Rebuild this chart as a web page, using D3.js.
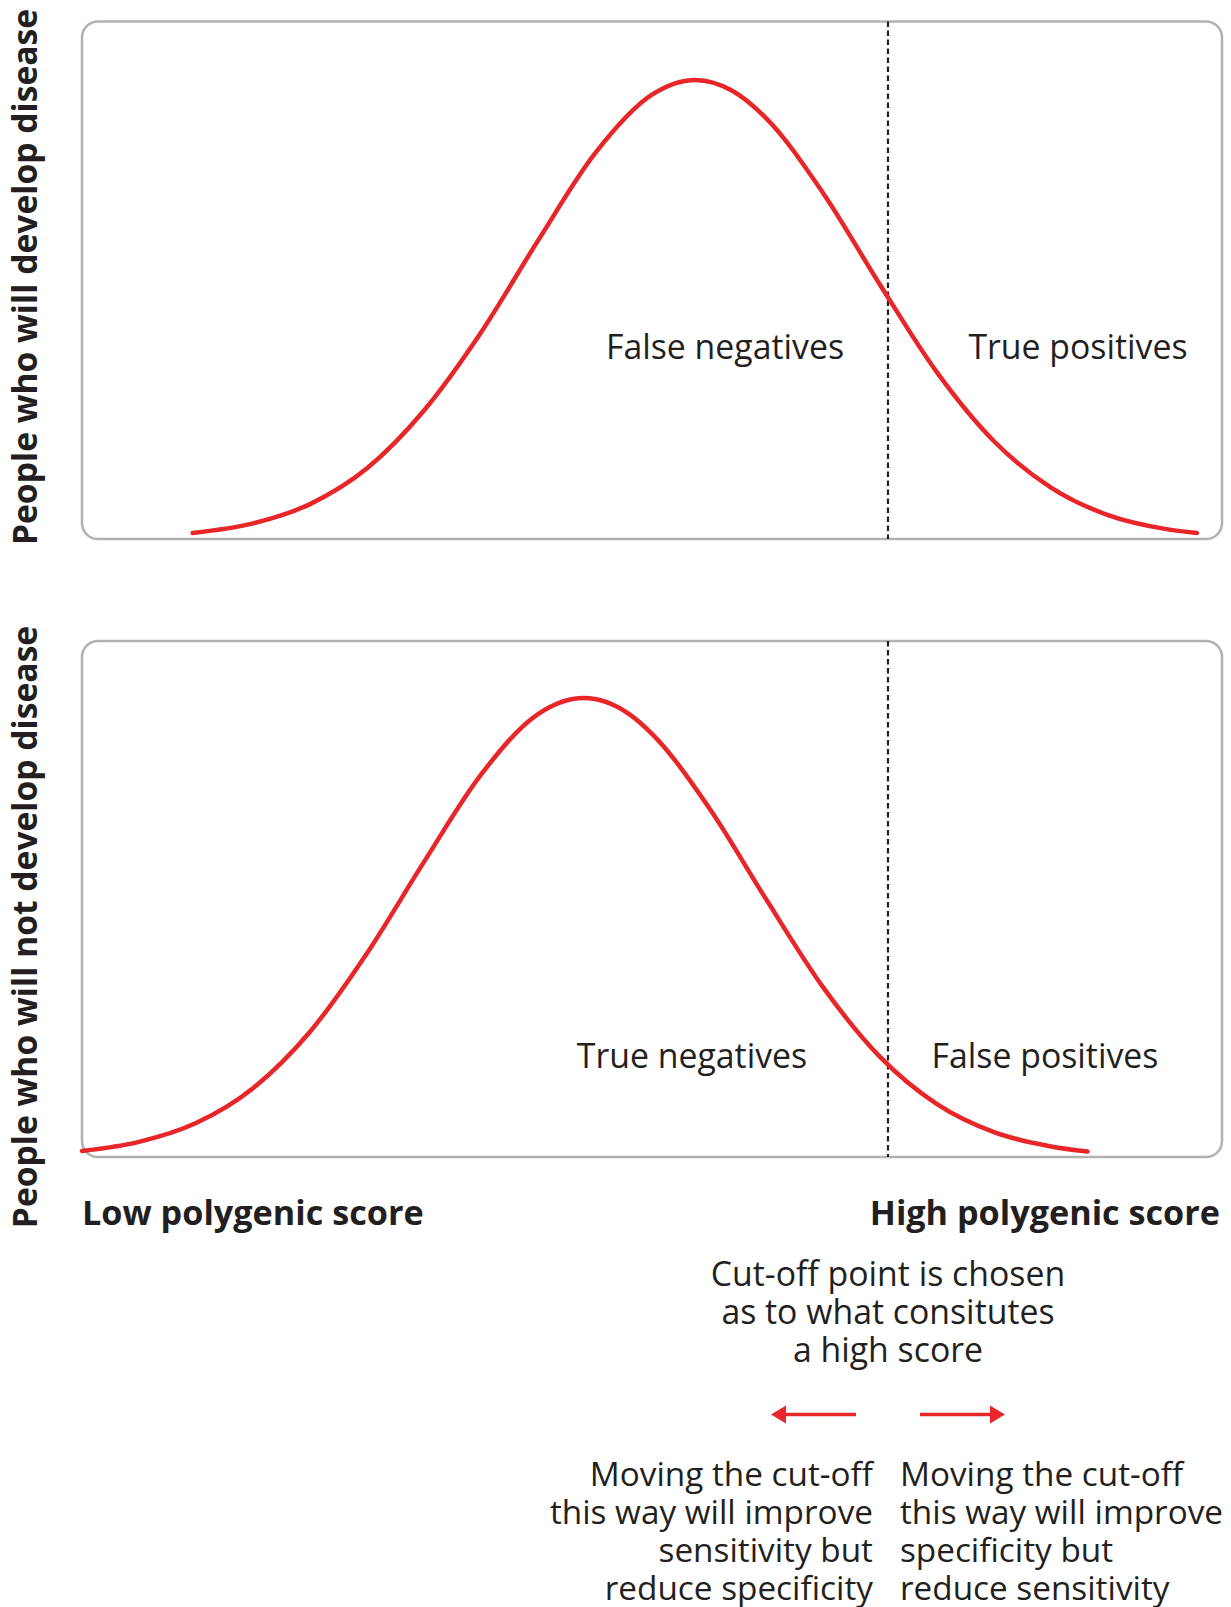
<!DOCTYPE html>
<html>
<head>
<meta charset="utf-8">
<script src="https://cdn.jsdelivr.net/npm/d3@7"></script>
<style>
  html, body { margin: 0; padding: 0; background: #fff; }
  svg { display: block; }
  text { font-family: "Open Sans", "DejaVu Sans", sans-serif; fill: #231f20; }
</style>
</head>
<body>
<svg id="chart" width="1231" height="1607"></svg>
<script>
// ---- Data ----
// x: polygenic score (0 = low, 100 = high); y: relative number of people (peak = 100)
const diseaseScores   = [9.7, 15, 20, 25, 30, 35, 40, 45, 50, 53.8, 57, 60, 65, 70, 75, 80, 85, 90, 95, 97.8];
const diseaseCounts   = [1.3, 3.4, 7.6, 15.4, 28, 45, 65, 84, 96.8, 100, 97.7, 91.7, 75.4, 55.4, 36.3, 21.3, 11.2, 5.2, 2.2, 1.3];
const noDiseaseScores = [0, 5, 10, 15, 20, 25, 30, 35, 40, 44, 48, 50, 55, 60, 65, 70, 75, 80, 85, 88.2];
const noDiseaseCounts = [1.3, 3.3, 7.4, 15, 27.3, 44.4, 64.3, 83.3, 96.5, 100, 96.5, 92.2, 76.1, 56.2, 37, 21.8, 11.5, 5.4, 2.3, 1.2];
const cutOff = 70.7;

const panelYLabels = ["People who will develop disease", "People who will not develop disease"];
const topLabels    = ["False negatives", "True positives"];
const bottomLabels = ["True negatives", "False positives"];
const axisLabels   = ["Low polygenic score", "High polygenic score"];
const cutOffNote   = ["Cut-off point is chosen", "as to what consitutes", "a high score"];
const leftNote     = ["Moving the cut-off", "this way will improve", "sensitivity but", "reduce specificity"];
const rightNote    = ["Moving the cut-off", "this way will improve", "specificity but", "reduce sensitivity"];

// ---- Layout ----
const RED = "#e8262a";
const svg = d3.select("#chart");
const boxLeft = 82, boxRight = 1222;
const x = d3.scaleLinear().domain([0, 100]).range([boxLeft, boxRight]);

const panels = [
  { top: 21.5, bottom: 539, peakY: 80,  scores: diseaseScores,   counts: diseaseCounts,
    labels: topLabels, labelY: 359, labelX: [725, 1078], yLabel: panelYLabels[0], yLabelC: 277 },
  { top: 641,  bottom: 1157, peakY: 698, scores: noDiseaseScores, counts: noDiseaseCounts,
    labels: bottomLabels, labelY: 1068, labelX: [692, 1045], yLabel: panelYLabels[1], yLabelC: 927 }
];

panels.forEach(p => {
  const y = d3.scaleLinear().domain([0, 100]).range([p.bottom, p.peakY]);
  const g = svg.append("g");

  g.append("rect")
    .attr("x", boxLeft).attr("y", p.top)
    .attr("width", boxRight - boxLeft).attr("height", p.bottom - p.top)
    .attr("rx", 16).attr("ry", 16)
    .attr("fill", "none").attr("stroke", "#b2b2b2").attr("stroke-width", 2.5);

  g.append("line")
    .attr("x1", x(cutOff)).attr("x2", x(cutOff))
    .attr("y1", p.top).attr("y2", p.bottom)
    .attr("stroke", "#231f20").attr("stroke-width", 2.2)
    .attr("stroke-dasharray", "5.5,3.5");

  const pts = p.scores.map((s, i) => [s, p.counts[i]]);
  g.append("path")
    .datum(pts)
    .attr("fill", "none").attr("stroke", RED).attr("stroke-width", 4.5)
    .attr("stroke-linecap", "round")
    .attr("d", d3.line().x(d => x(d[0])).y(d => y(d[1])).curve(d3.curveMonotoneX));

  p.labels.forEach((t, i) => {
    g.append("text").attr("x", p.labelX[i]).attr("y", p.labelY)
      .attr("text-anchor", "middle").attr("font-size", 33.8).text(t);
  });

  g.append("text")
    .attr("transform", `translate(36.5,${p.yLabelC}) rotate(-90)`)
    .attr("text-anchor", "middle").attr("font-size", 33.6).attr("font-weight", 700)
    .text(p.yLabel);
});

// axis end labels
svg.append("text").attr("x", boxLeft).attr("y", 1225)
  .attr("font-size", 34.2).attr("font-weight", 700).text(axisLabels[0]);
svg.append("text").attr("x", boxRight - 2).attr("y", 1225).attr("text-anchor", "end")
  .attr("font-size", 34.2).attr("font-weight", 700).text(axisLabels[1]);

// multi-line text block as one text element
function block(lines, xPos, y0, anchor, size) {
  const t = svg.append("text").attr("x", xPos).attr("y", y0)
    .attr("text-anchor", anchor).attr("font-size", size);
  lines.forEach((line, i) => {
    t.append("tspan").attr("x", xPos).attr("dy", i === 0 ? 0 : 38).text(line);
  });
}

const cx = x(cutOff);
block(cutOffNote, cx, 1286, "middle", 33.8);

// arrows
const arrowY = 1414.5;
function arrow(x0, x1) {
  const dir = Math.sign(x1 - x0);
  const headLen = 15, headHalf = 9;
  svg.append("line").attr("x1", x0).attr("x2", x1 - dir * headLen + dir * 2)
    .attr("y1", arrowY).attr("y2", arrowY)
    .attr("stroke", RED).attr("stroke-width", 3.5);
  svg.append("path")
    .attr("d", `M${x1},${arrowY} L${x1 - dir * headLen},${arrowY - headHalf} L${x1 - dir * headLen},${arrowY + headHalf} Z`)
    .attr("fill", RED);
}
arrow(cx - 32, cx - 117);
arrow(cx + 32, cx + 117);

block(leftNote, cx - 15, 1486, "end", 33.3);
block(rightNote, cx + 12, 1486, "start", 33.3);
</script>
</body>
</html>
